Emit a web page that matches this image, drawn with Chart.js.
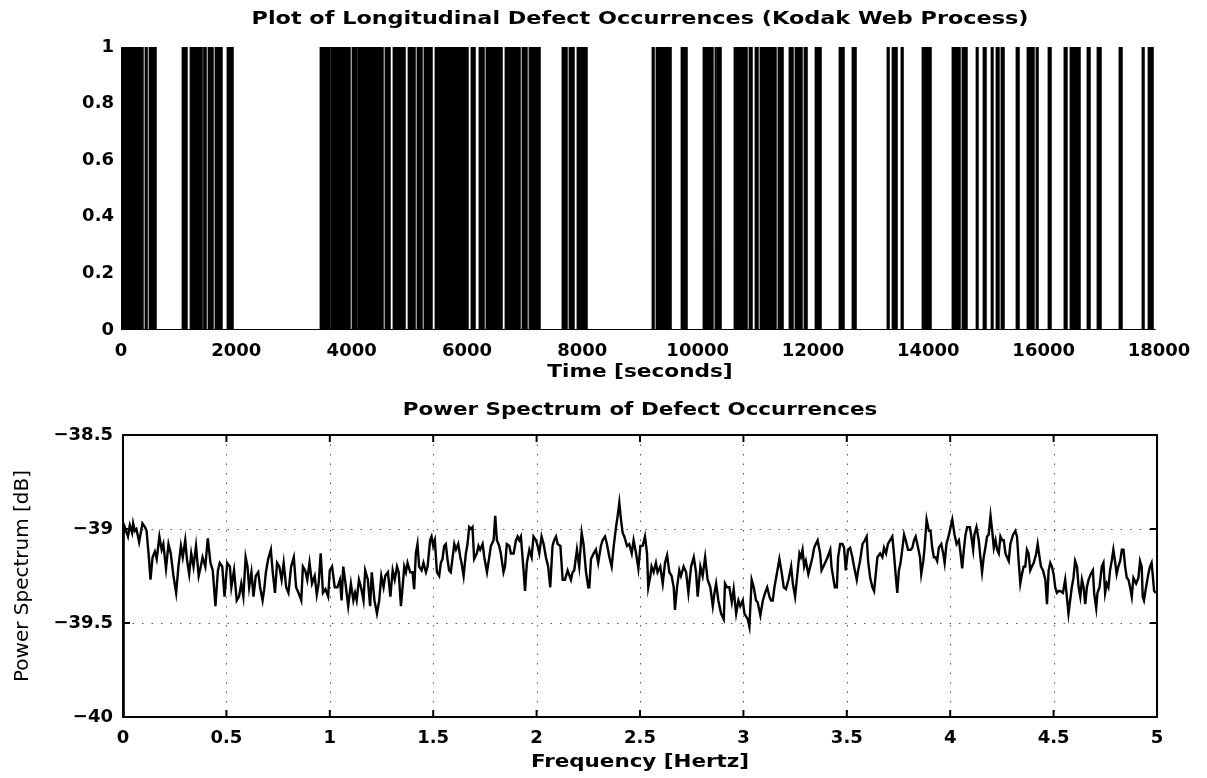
<!DOCTYPE html>
<html>
<head>
<meta charset="utf-8">
<title>Kodak Web Process – Defect Occurrences</title>
<script src="https://cdn.jsdelivr.net/npm/chart.js@4.4.1/dist/chart.umd.min.js"></script>
<style>
  html, body { margin: 0; padding: 0; background: #fff; overflow: hidden; }
  canvas { position: absolute; left: 0; display: block; }
  #occ { top: 0; }
  #psd { top: 385px; }
</style>
</head>
<body>
<canvas id="occ" width="1207" height="385"></canvas>
<canvas id="psd" width="1207" height="393"></canvas>
<script>
// ---- Defect occurrence intervals (seconds): each defect burst starts/ends here ----
const defectStart = [0, 416, 486, 1058, 1197, 1431, 1509, 1630, 1838,
  3451, 3642, 4006, 4110, 4578, 4717, 4977, 5133, 5254, 5445, 6069, 6208, 6329, 6659, 6954, 7075,
  7647, 7769, 7907, 9208, 9277, 9711, 10092, 10300, 10335, 10630, 10890, 10994, 11081, 11393,
  11584, 11688, 11844, 12035, 12451, 12676, 13283, 13370, 13526, 13890, 14410, 14584, 14827,
  14948, 15087, 15173, 15260, 15520, 15711, 15867, 16075, 16352, 16457, 16751, 16925, 17306,
  17705, 17809];
const defectEnd = [381, 451, 607, 1144, 1405, 1474, 1595, 1751, 1942,
  3624, 3971, 4092, 4543, 4665, 4925, 5098, 5220, 5393, 6017, 6139, 6295, 6607, 6919, 7040, 7266,
  7734, 7855, 8081, 9243, 9538, 9815, 10265, 10318, 10405, 10856, 10942, 11046, 11358, 11480,
  11653, 11809, 11896, 12139, 12538, 12746, 13318, 13457, 13561, 14046, 14549, 14670, 14861,
  15000, 15121, 15225, 15312, 15572, 15832, 15902, 16127, 16404, 16630, 16803, 16994, 17358,
  17740, 17896];
const recordEnd = 17940;

// ---- Power spectrum of the occurrence signal: [frequency Hz, power dB] ----
const spectrumLow = [[0,-40],[0.003,-39.03],[0.008,-38.99],[0.024,-39.04],[0.033,-38.98],[0.044,-39.02],[0.049,-38.97],[0.057,-39.01],[0.065,-39.00],[0.078,-39.07],[0.094,-38.97],[0.106,-38.99],[0.114,-39.01],[0.125,-39.15],[0.133,-39.27],[0.143,-39.15],[0.154,-39.12],[0.163,-39.16],[0.176,-39.04],[0.187,-39.11],[0.195,-39.08],[0.208,-39.21],[0.220,-39.08],[0.231,-39.13],[0.244,-39.25],[0.257,-39.34],[0.268,-39.20],[0.280,-39.09],[0.289,-39.15],[0.301,-39.06],[0.309,-39.16],[0.320,-39.24],[0.330,-39.13],[0.341,-39.20],[0.353,-39.09],[0.366,-39.25],[0.374,-39.21],[0.385,-39.15],[0.398,-39.20],[0.410,-39.05],[0.423,-39.18],[0.434,-39.22],[0.447,-39.41],[0.459,-39.22],[0.468,-39.18],[0.480,-39.20],[0.491,-39.36],[0.504,-39.18],[0.517,-39.20],[0.524,-39.31],[0.537,-39.22],[0.550,-39.38],[0.561,-39.36],[0.572,-39.29],[0.582,-39.36],[0.593,-39.15],[0.602,-39.20],[0.610,-39.31],[0.621,-39.23],[0.631,-39.36],[0.642,-39.25],[0.654,-39.23],[0.663,-39.31],[0.675,-39.38],[0.683,-39.32],[0.691,-39.23],[0.702,-39.16],[0.715,-39.11],[0.724,-39.23],[0.735,-39.34],[0.745,-39.18],[0.756,-39.20],[0.767,-39.27],[0.777,-39.18],[0.789,-39.31],[0.800,-39.34],[0.813,-39.20],[0.826,-39.15],[0.837,-39.31],[0.849,-39.34],[0.862,-39.38],[0.870,-39.20],[0.881,-39.22],[0.891,-39.27],[0.902,-39.18],[0.914,-39.29],[0.927,-39.25],[0.937,-39.35],[0.946,-39.29],[0.956,-39.13],[0.967,-39.34],[0.979,-39.32],[0.992,-39.36],[1.000,-39.22],[1.011,-39.20],[1.024,-39.31],[1.037,-39.31],[1.049,-39.27],[1.057,-39.38],[1.065,-39.20],[1.076,-39.29],[1.089,-39.41],[1.102,-39.29],[1.114,-39.38],[1.122,-39.34],[1.130,-39.38],[1.141,-39.27],[1.151,-39.31],[1.163,-39.38],[1.171,-39.22],[1.184,-39.27],[1.195,-39.41],[1.203,-39.23],[1.216,-39.38],[1.228,-39.45],[1.239,-39.38],[1.249,-39.25],[1.260,-39.31],[1.268,-39.25],[1.281,-39.23],[1.293,-39.36],[1.304,-39.22],[1.314,-39.27],[1.325,-39.20],[1.333,-39.23]];

const spectrumMid = [[1.344,-39.41],[1.352,-39.31],[1.360,-39.20],[1.368,-39.23],[1.376,-39.18],[1.389,-39.23],[1.400,-39.23],[1.408,-39.32],[1.416,-39.13],[1.424,-39.08],[1.432,-39.20],[1.444,-39.22],[1.453,-39.18],[1.465,-39.23],[1.473,-39.20],[1.485,-39.06],[1.492,-39.04],[1.500,-39.09],[1.508,-39.06],[1.518,-39.23],[1.529,-39.25],[1.537,-39.18],[1.545,-39.16],[1.553,-39.09],[1.561,-39.08],[1.569,-39.16],[1.577,-39.22],[1.585,-39.23],[1.594,-39.15],[1.602,-39.08],[1.610,-39.11],[1.621,-39.08],[1.631,-39.15],[1.637,-39.18],[1.647,-39.25],[1.658,-39.13],[1.666,-39.08],[1.674,-38.99],[1.682,-39.00],[1.690,-38.99],[1.698,-39.16],[1.711,-39.13],[1.719,-39.09],[1.727,-39.11],[1.739,-39.08],[1.747,-39.15],[1.760,-39.23],[1.771,-39.15],[1.779,-39.09],[1.792,-39.06],[1.800,-38.93],[1.808,-39.06],[1.819,-39.09],[1.827,-39.13],[1.840,-39.23],[1.847,-39.20],[1.856,-39.08],[1.868,-39.09],[1.876,-39.13],[1.889,-39.13],[1.900,-39.06],[1.908,-39.04],[1.916,-39.06],[1.924,-39.04],[1.937,-39.22],[1.944,-39.33],[1.953,-39.18],[1.965,-39.11],[1.976,-39.15],[1.985,-39.04],[1.997,-39.06],[2.005,-39.09],[2.013,-39.13],[2.024,-39.04],[2.034,-39.08],[2.045,-39.15],[2.056,-39.20],[2.066,-39.31],[2.077,-39.09],[2.085,-39.06],[2.094,-39.04],[2.102,-39.08],[2.115,-39.09],[2.126,-39.27],[2.137,-39.27],[2.150,-39.22],[2.166,-39.27],[2.174,-39.23],[2.182,-39.22],[2.195,-39.11],[2.206,-39.20],[2.218,-39.02],[2.227,-39.08],[2.239,-39.23],[2.250,-39.31],[2.255,-39.31],[2.263,-39.16],[2.276,-39.13],[2.287,-39.11],[2.298,-39.18],[2.311,-39.09],[2.319,-39.06],[2.331,-39.04],[2.340,-39.08],[2.352,-39.15],[2.363,-39.20],[2.373,-39.09],[2.384,-38.99],[2.392,-38.93],[2.400,-38.86],[2.408,-38.95],[2.416,-39.02],[2.424,-39.04],[2.437,-39.09],[2.448,-39.08],[2.460,-39.13],[2.469,-39.06],[2.481,-39.13],[2.492,-39.21],[2.502,-39.09],[2.513,-39.09],[2.524,-39.04],[2.534,-39.13],[2.540,-39.31],[2.550,-39.25],[2.556,-39.20],[2.566,-39.23],[2.577,-39.18],[2.585,-39.23],[2.598,-39.20],[2.610,-39.29],[2.621,-39.18],[2.631,-39.14],[2.642,-39.23],[2.653,-39.25],[2.663,-39.31],[2.669,-39.43],[2.679,-39.31],[2.690,-39.22],[2.698,-39.25],[2.711,-39.20],[2.723,-39.23],[2.734,-39.34],[2.747,-39.20],[2.760,-39.15],[2.771,-39.23],[2.779,-39.36],[2.792,-39.20],[2.803,-39.25],[2.815,-39.15],[2.827,-39.27],[2.840,-39.31],[2.852,-39.41],[2.860,-39.34],[2.868,-39.29],[2.879,-39.38],[2.892,-39.45],[2.905,-39.48],[2.911,-39.29],[2.921,-39.31],[2.932,-39.31],[2.944,-39.39],[2.953,-39.32],[2.965,-39.45],[2.976,-39.38],[2.985,-39.41],[2.997,-39.38],[3.005,-39.45],[3.021,-39.48],[3.029,-39.52],[3.040,-39.27],[3.050,-39.31],[3.061,-39.38],[3.069,-39.39],[3.082,-39.46],[3.094,-39.38],[3.105,-39.34],[3.115,-39.31],[3.126,-39.36],[3.134,-39.38],[3.142,-39.38],[3.150,-39.31],[3.163,-39.23],[3.174,-39.16],[3.185,-39.23],[3.195,-39.31],[3.206,-39.32],[3.218,-39.27],[3.231,-39.20],[3.239,-39.29],[3.250,-39.36],[3.260,-39.25],[3.271,-39.13]];

const spectrumHigh = [[3.278,-39.15],[3.286,-39.11],[3.294,-39.20],[3.302,-39.17],[3.314,-39.24],[3.323,-39.20],[3.334,-39.15],[3.342,-39.10],[3.350,-39.08],[3.359,-39.06],[3.371,-39.13],[3.378,-39.22],[3.387,-39.20],[3.399,-39.17],[3.407,-39.15],[3.420,-39.11],[3.426,-39.20],[3.436,-39.27],[3.442,-39.31],[3.452,-39.31],[3.458,-39.15],[3.468,-39.08],[3.479,-39.08],[3.487,-39.10],[3.495,-39.22],[3.506,-39.11],[3.516,-39.10],[3.527,-39.15],[3.535,-39.20],[3.548,-39.27],[3.555,-39.22],[3.564,-39.17],[3.576,-39.08],[3.587,-39.06],[3.596,-39.04],[3.603,-39.17],[3.613,-39.26],[3.624,-39.31],[3.632,-39.33],[3.640,-39.24],[3.648,-39.15],[3.661,-39.13],[3.672,-39.15],[3.680,-39.10],[3.690,-39.13],[3.699,-39.08],[3.709,-39.06],[3.720,-39.04],[3.728,-39.13],[3.736,-39.24],[3.744,-39.34],[3.752,-39.22],[3.760,-39.18],[3.768,-39.11],[3.777,-39.03],[3.785,-39.06],[3.796,-39.11],[3.809,-39.11],[3.817,-39.10],[3.825,-39.06],[3.833,-39.04],[3.841,-39.08],[3.854,-39.15],[3.860,-39.24],[3.870,-39.17],[3.876,-39.10],[3.886,-38.95],[3.897,-39.01],[3.905,-39.01],[3.913,-39.10],[3.921,-39.15],[3.929,-39.15],[3.937,-39.17],[3.945,-39.10],[3.957,-39.08],[3.966,-39.13],[3.973,-39.18],[3.982,-39.08],[3.994,-39.03],[4.002,-38.99],[4.010,-38.95],[4.021,-39.03],[4.031,-39.08],[4.042,-39.06],[4.050,-39.13],[4.058,-39.21],[4.066,-39.11],[4.074,-39.03],[4.082,-38.99],[4.095,-38.99],[4.101,-39.03],[4.111,-39.11],[4.117,-39.03],[4.127,-38.99],[4.138,-39.06],[4.146,-39.15],[4.154,-39.23],[4.162,-39.15],[4.170,-39.10],[4.178,-39.04],[4.186,-39.03],[4.195,-38.93],[4.203,-39.01],[4.211,-39.10],[4.219,-39.06],[4.227,-39.11],[4.235,-39.13],[4.243,-39.04],[4.251,-39.06],[4.259,-39.06],[4.267,-39.13],[4.275,-39.15],[4.283,-39.17],[4.291,-39.08],[4.304,-39.03],[4.315,-39.01],[4.323,-39.04],[4.331,-39.17],[4.339,-39.29],[4.347,-39.24],[4.355,-39.20],[4.363,-39.20],[4.371,-39.11],[4.379,-39.13],[4.387,-39.22],[4.395,-39.20],[4.404,-39.18],[4.416,-39.13],[4.423,-39.08],[4.432,-39.15],[4.439,-39.20],[4.449,-39.22],[4.460,-39.27],[4.468,-39.40],[4.476,-39.22],[4.484,-39.18],[4.492,-39.20],[4.500,-39.24],[4.508,-39.31],[4.516,-39.34],[4.524,-39.33],[4.532,-39.33],[4.545,-39.34],[4.556,-39.27],[4.564,-39.36],[4.572,-39.45],[4.580,-39.38],[4.588,-39.31],[4.596,-39.26],[4.604,-39.17],[4.613,-39.20],[4.621,-39.31],[4.629,-39.36],[4.637,-39.27],[4.645,-39.31],[4.653,-39.40],[4.661,-39.31],[4.669,-39.27],[4.680,-39.24],[4.690,-39.22],[4.696,-39.34],[4.706,-39.42],[4.712,-39.34],[4.722,-39.31],[4.733,-39.20],[4.741,-39.18],[4.749,-39.34],[4.757,-39.29],[4.765,-39.31],[4.773,-39.22],[4.781,-39.17],[4.789,-39.11],[4.797,-39.17],[4.805,-39.24],[4.813,-39.20],[4.822,-39.17],[4.830,-39.11],[4.838,-39.11],[4.846,-39.20],[4.854,-39.26],[4.862,-39.27],[4.870,-39.31],[4.878,-39.36],[4.886,-39.26],[4.899,-39.29],[4.910,-39.26],[4.918,-39.17],[4.926,-39.20],[4.931,-39.36],[4.937,-39.38],[4.947,-39.31],[4.958,-39.24],[4.966,-39.20],[4.974,-39.18],[4.979,-39.24],[4.986,-39.33],[4.995,-39.34]];

// ---- Tick values ----
const timeTicks = [0, 2000, 4000, 6000, 8000, 10000, 12000, 14000, 16000, 18000];
const occTicks = [0, 0.2, 0.4, 0.6, 0.8, 1];
const freqTicks = [0, 0.5, 1, 1.5, 2, 2.5, 3, 3.5, 4, 4.5, 5];
const dbTicks = [-40, -39.5, -39, -38.5];

// ---- Build the 0/1 occurrence trace from the intervals ----
const occurrencePoints = [];
defectStart.forEach((s, i) => {
  occurrencePoints.push({ x: s, y: 0 }, { x: s, y: 1 }, { x: defectEnd[i], y: 1 }, { x: defectEnd[i], y: 0 });
});
occurrencePoints.push({ x: recordEnd, y: 0 });
const baselinePoints = [{ x: 0, y: 0 }, { x: recordEnd, y: 0 }];

const spectrumPoints = spectrumLow.concat(spectrumMid, spectrumHigh).map(([f, p]) => ({ x: f, y: p }));

const FONT = 'DejaVu Sans';
const tickFont = { family: FONT, size: 18, weight: 'bold' };

const setTicks = (arr) => (scale) => { scale.ticks = arr.map(v => ({ value: v })); };
const fmt = (v) => (v < 0 ? '\u2212' + String(Math.abs(v)) : String(v));

// Axes decorations: MATLAB-style frame, dotted grid, inward ticks and the text labels
const axesDecor = {
  id: 'axesDecor',
  beforeDatasetsDraw(chart, args, o) {
    if (!o.grid) return;
    const { ctx, chartArea: a, scales: { x, y } } = chart;
    ctx.save();
    ctx.strokeStyle = '#555';
    ctx.lineWidth = 1;
    ctx.setLineDash([1.5, 8]);
    x.ticks.forEach(t => {
      const px = Math.round(x.getPixelForValue(t.value)) + 0.5;
      if (px <= a.left + 2 || px >= a.right - 2) return;
      ctx.beginPath(); ctx.moveTo(px, a.top); ctx.lineTo(px, a.bottom); ctx.stroke();
    });
    y.ticks.forEach(t => {
      const py = Math.round(y.getPixelForValue(t.value)) + 0.5;
      if (py <= a.top + 2 || py >= a.bottom - 2) return;
      ctx.beginPath(); ctx.moveTo(a.left, py); ctx.lineTo(a.right, py); ctx.stroke();
    });
    ctx.restore();
  },
  afterDraw(chart, args, o) {
    const { ctx, chartArea: a, scales: { x, y } } = chart;
    ctx.save();
    if (o.frame) {
      ctx.strokeStyle = '#000';
      ctx.lineWidth = 2;
      ctx.strokeRect(a.left, a.top, a.right - a.left, a.bottom - a.top);
      const L = 7;
      ctx.beginPath();
      x.ticks.forEach(t => {
        const px = x.getPixelForValue(t.value);
        ctx.moveTo(px, a.bottom); ctx.lineTo(px, a.bottom - L);
        ctx.moveTo(px, a.top); ctx.lineTo(px, a.top + L);
      });
      y.ticks.forEach(t => {
        const py = y.getPixelForValue(t.value);
        ctx.moveTo(a.left, py); ctx.lineTo(a.left + L, py);
        ctx.moveTo(a.right, py); ctx.lineTo(a.right - L, py);
      });
      ctx.stroke();
    }
    (o.labels || []).forEach(lb => {
      const cx = lb.x === undefined ? (a.left + a.right) / 2 : lb.x;
      const cy = lb.y === undefined ? (a.top + a.bottom) / 2 : lb.y;
      ctx.save();
      ctx.fillStyle = '#000';
      ctx.font = `${lb.weight || 'bold'} ${lb.size}px "${FONT}"`;
      ctx.textAlign = 'center';
      ctx.textBaseline = 'middle';
      ctx.translate(cx, cy);
      if (lb.rotate) ctx.rotate(lb.rotate);
      ctx.scale(lb.stretch || 1, 1);
      ctx.fillText(lb.text, 0, 0);
      ctx.restore();
    });
    ctx.restore();
  }
};
Chart.register(axesDecor);

// ---- Upper plot: defect occurrences over time ----
new Chart(document.getElementById('occ'), {
  type: 'line',
  data: {
    datasets: [{
      data: occurrencePoints,
      borderColor: '#000',
      backgroundColor: '#000',
      borderWidth: 0.8,
      fill: 'origin',
      pointRadius: 0,
      tension: 0
    }, {
      data: baselinePoints,
      borderColor: '#000',
      borderWidth: 2,
      fill: false,
      pointRadius: 0
    }]
  },
  options: {
    responsive: false,
    animation: false,
    layout: { padding: { top: 47, right: 48, left: 0, bottom: 0 } },
    plugins: {
      legend: { display: false },
      tooltip: { enabled: false },
      axesDecor: {
        labels: [
          { text: 'Plot of Longitudinal Defect Occurrences (Kodak Web Process)', y: 19, size: 18, stretch: 1.24 },
          { text: 'Time [seconds]', y: 372, size: 18, stretch: 1.2 }
        ]
      }
    },
    scales: {
      x: {
        type: 'linear', min: 0, max: 18000,
        afterBuildTicks: setTicks(timeTicks),
        afterFit: (s) => { s.height = 385 - 330; },
        grid: { display: false, drawTicks: false },
        border: { display: false },
        ticks: { font: tickFont, color: '#000', padding: 11, maxRotation: 0, autoSkip: false, callback: fmt }
      },
      y: {
        min: 0, max: 1,
        afterBuildTicks: setTicks(occTicks),
        afterFit: (s) => { s.width = 121; },
        grid: { display: false, drawTicks: false },
        border: { display: false },
        ticks: { font: tickFont, color: '#000', padding: 7, callback: (v) => (v === 0 || v === 1 ? String(v) : v.toFixed(1)) }
      }
    }
  }
});

// ---- Lower plot: power spectrum ----
new Chart(document.getElementById('psd'), {
  type: 'line',
  data: {
    datasets: [{
      data: spectrumPoints,
      borderColor: '#000',
      borderWidth: 2.4,
      fill: false,
      pointRadius: 0,
      tension: 0
    }]
  },
  options: {
    responsive: false,
    animation: false,
    layout: { padding: { top: 50, right: 50, left: 0, bottom: 0 } },
    plugins: {
      legend: { display: false },
      tooltip: { enabled: false },
      axesDecor: {
        frame: true, grid: true,
        labels: [
          { text: 'Power Spectrum of Defect Occurrences', y: 25, size: 18, stretch: 1.19 },
          { text: 'Frequency [Hertz]', y: 377, size: 18, stretch: 1.19 },
          { text: 'Power Spectrum [dB]', x: 23, size: 20, weight: 'normal', rotate: -Math.PI / 2 }
        ]
      }
    },
    scales: {
      x: {
        type: 'linear', min: 0, max: 5,
        afterBuildTicks: setTicks(freqTicks),
        afterFit: (s) => { s.height = 393 - 332; },
        grid: { display: false, drawTicks: false },
        border: { display: false },
        ticks: { font: tickFont, color: '#000', padding: 11, maxRotation: 0, autoSkip: false, callback: fmt }
      },
      y: {
        min: -40, max: -38.5,
        afterBuildTicks: setTicks(dbTicks),
        afterFit: (s) => { s.width = 123; },
        grid: { display: false, drawTicks: false },
        border: { display: false },
        ticks: { font: tickFont, color: '#000', padding: 10, callback: fmt }
      }
    }
  }
});
</script>
</body>
</html>
